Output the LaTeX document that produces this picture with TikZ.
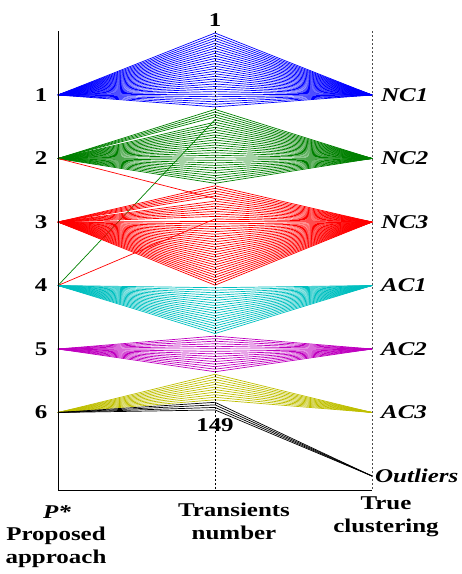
\documentclass[tikz,border=0pt]{standalone}
\usepackage{fontspec}
\setmainfont{Liberation Serif}[FakeStretch=1.28]
\definecolor{colB}{rgb}{0,0,1}
\definecolor{colG}{rgb}{0,0.5,0}
\definecolor{colR}{rgb}{1,0,0}
\definecolor{colC}{rgb}{0,0.75,0.75}
\definecolor{colM}{rgb}{0.75,0,0.75}
\definecolor{colY}{rgb}{0.75,0.75,0}
\tikzset{
  tr/.style={line width=0.7pt},
  lab/.style={font=\fontsize{19.5}{23}\selectfont\bfseries, inner sep=0pt},
  ilab/.style={font=\fontsize{19.5}{23}\selectfont\bfseries\itshape, inner sep=0pt, anchor=west},
  dashaxis/.style={line width=0.6pt, dash pattern=on 2pt off 2pt},
}
\begin{document}
\begin{tikzpicture}[x=1pt,y=-1pt]
\useasboundingbox (0,0) rectangle (462,574);
% axis points
\foreach \k in {1,...,6} {
  \coordinate (L\k) at (58,{95+63.5*(\k-1)});
  \coordinate (R\k) at (372,{95+63.5*(\k-1)});
}
\coordinate (R7) at (372,476);
\foreach \i in {1,...,149} \coordinate (M\i) at (215,{33+(\i-1)*2.547});
% transients
\foreach \i in {1,...,30} \draw[tr,colB] (L1) -- (M\i) -- (R1);
\foreach \i in {31,...,34,36,37,...,60} \draw[tr,colG] (L2) -- (M\i) -- (R2);
\draw[tr,colG] (L4) -- (M35) -- (R2);
\foreach \i in {61,...,65,67,68,...,73,75,76,...,100} \draw[tr,colR] (L3) -- (M\i) -- (R3);
\draw[tr,colR] (L2) -- (M66) -- (R3);
\draw[tr,colR] (L4) -- (M74) -- (R3);
\foreach \i in {101,...,119} \draw[tr,colC] (L4) -- (M\i) -- (R4);
\foreach \i in {120,...,134} \draw[tr,colM] (L5) -- (M\i) -- (R5);
\foreach \i in {135,...,145} \draw[tr,colY] (L6) -- (M\i) -- (R6);
\foreach \i in {146,...,149} \draw[tr,black] (L6) -- (M\i) -- (R7);
% axes
\coordinate (LT) at (58,31);
\coordinate (LB) at (58,490);
\coordinate (MT) at (215,31);
\coordinate (MB) at (215,490);
\coordinate (RT) at (372,31);
\coordinate (RB) at (372,490);
\draw[line width=0.7pt] (LT) -- (LB) -- (RB);
\draw[dashaxis] (MT) -- (MB);
\draw[dashaxis,black!70] (RT) -- (RB);
% labels
\node[lab] (top) at (215,20) {1};
\node[lab] (bot) at (215,425) {149};
\foreach \k in {1,...,6} \node[lab] (n\k) at (41,{95+63.5*(\k-1)}) {\k};
\node[ilab] (t1) at (381,95) {NC1};
\node[ilab] (t2) at (381,158.5) {NC2};
\node[ilab] (t3) at (381,222) {NC3};
\node[ilab] (t4) at (381,285.5) {AC1};
\node[ilab] (t5) at (381,349) {AC2};
\node[ilab] (t6) at (381,412.5) {AC3};
\node[ilab] (t7) at (375,476) {Outliers};
\node[lab,font=\fontsize{19.5}{23}\selectfont\bfseries\itshape] (ps) at (57,512) {P*};
\node[lab,align=center] (pa) at (56,547) {Proposed\\approach};
\node[lab,align=center] (tn) at (234,521) {Transients\\number};
\node[lab,align=center] (tc) at (386,517) {True\\clustering};
\end{tikzpicture}
\end{document}
